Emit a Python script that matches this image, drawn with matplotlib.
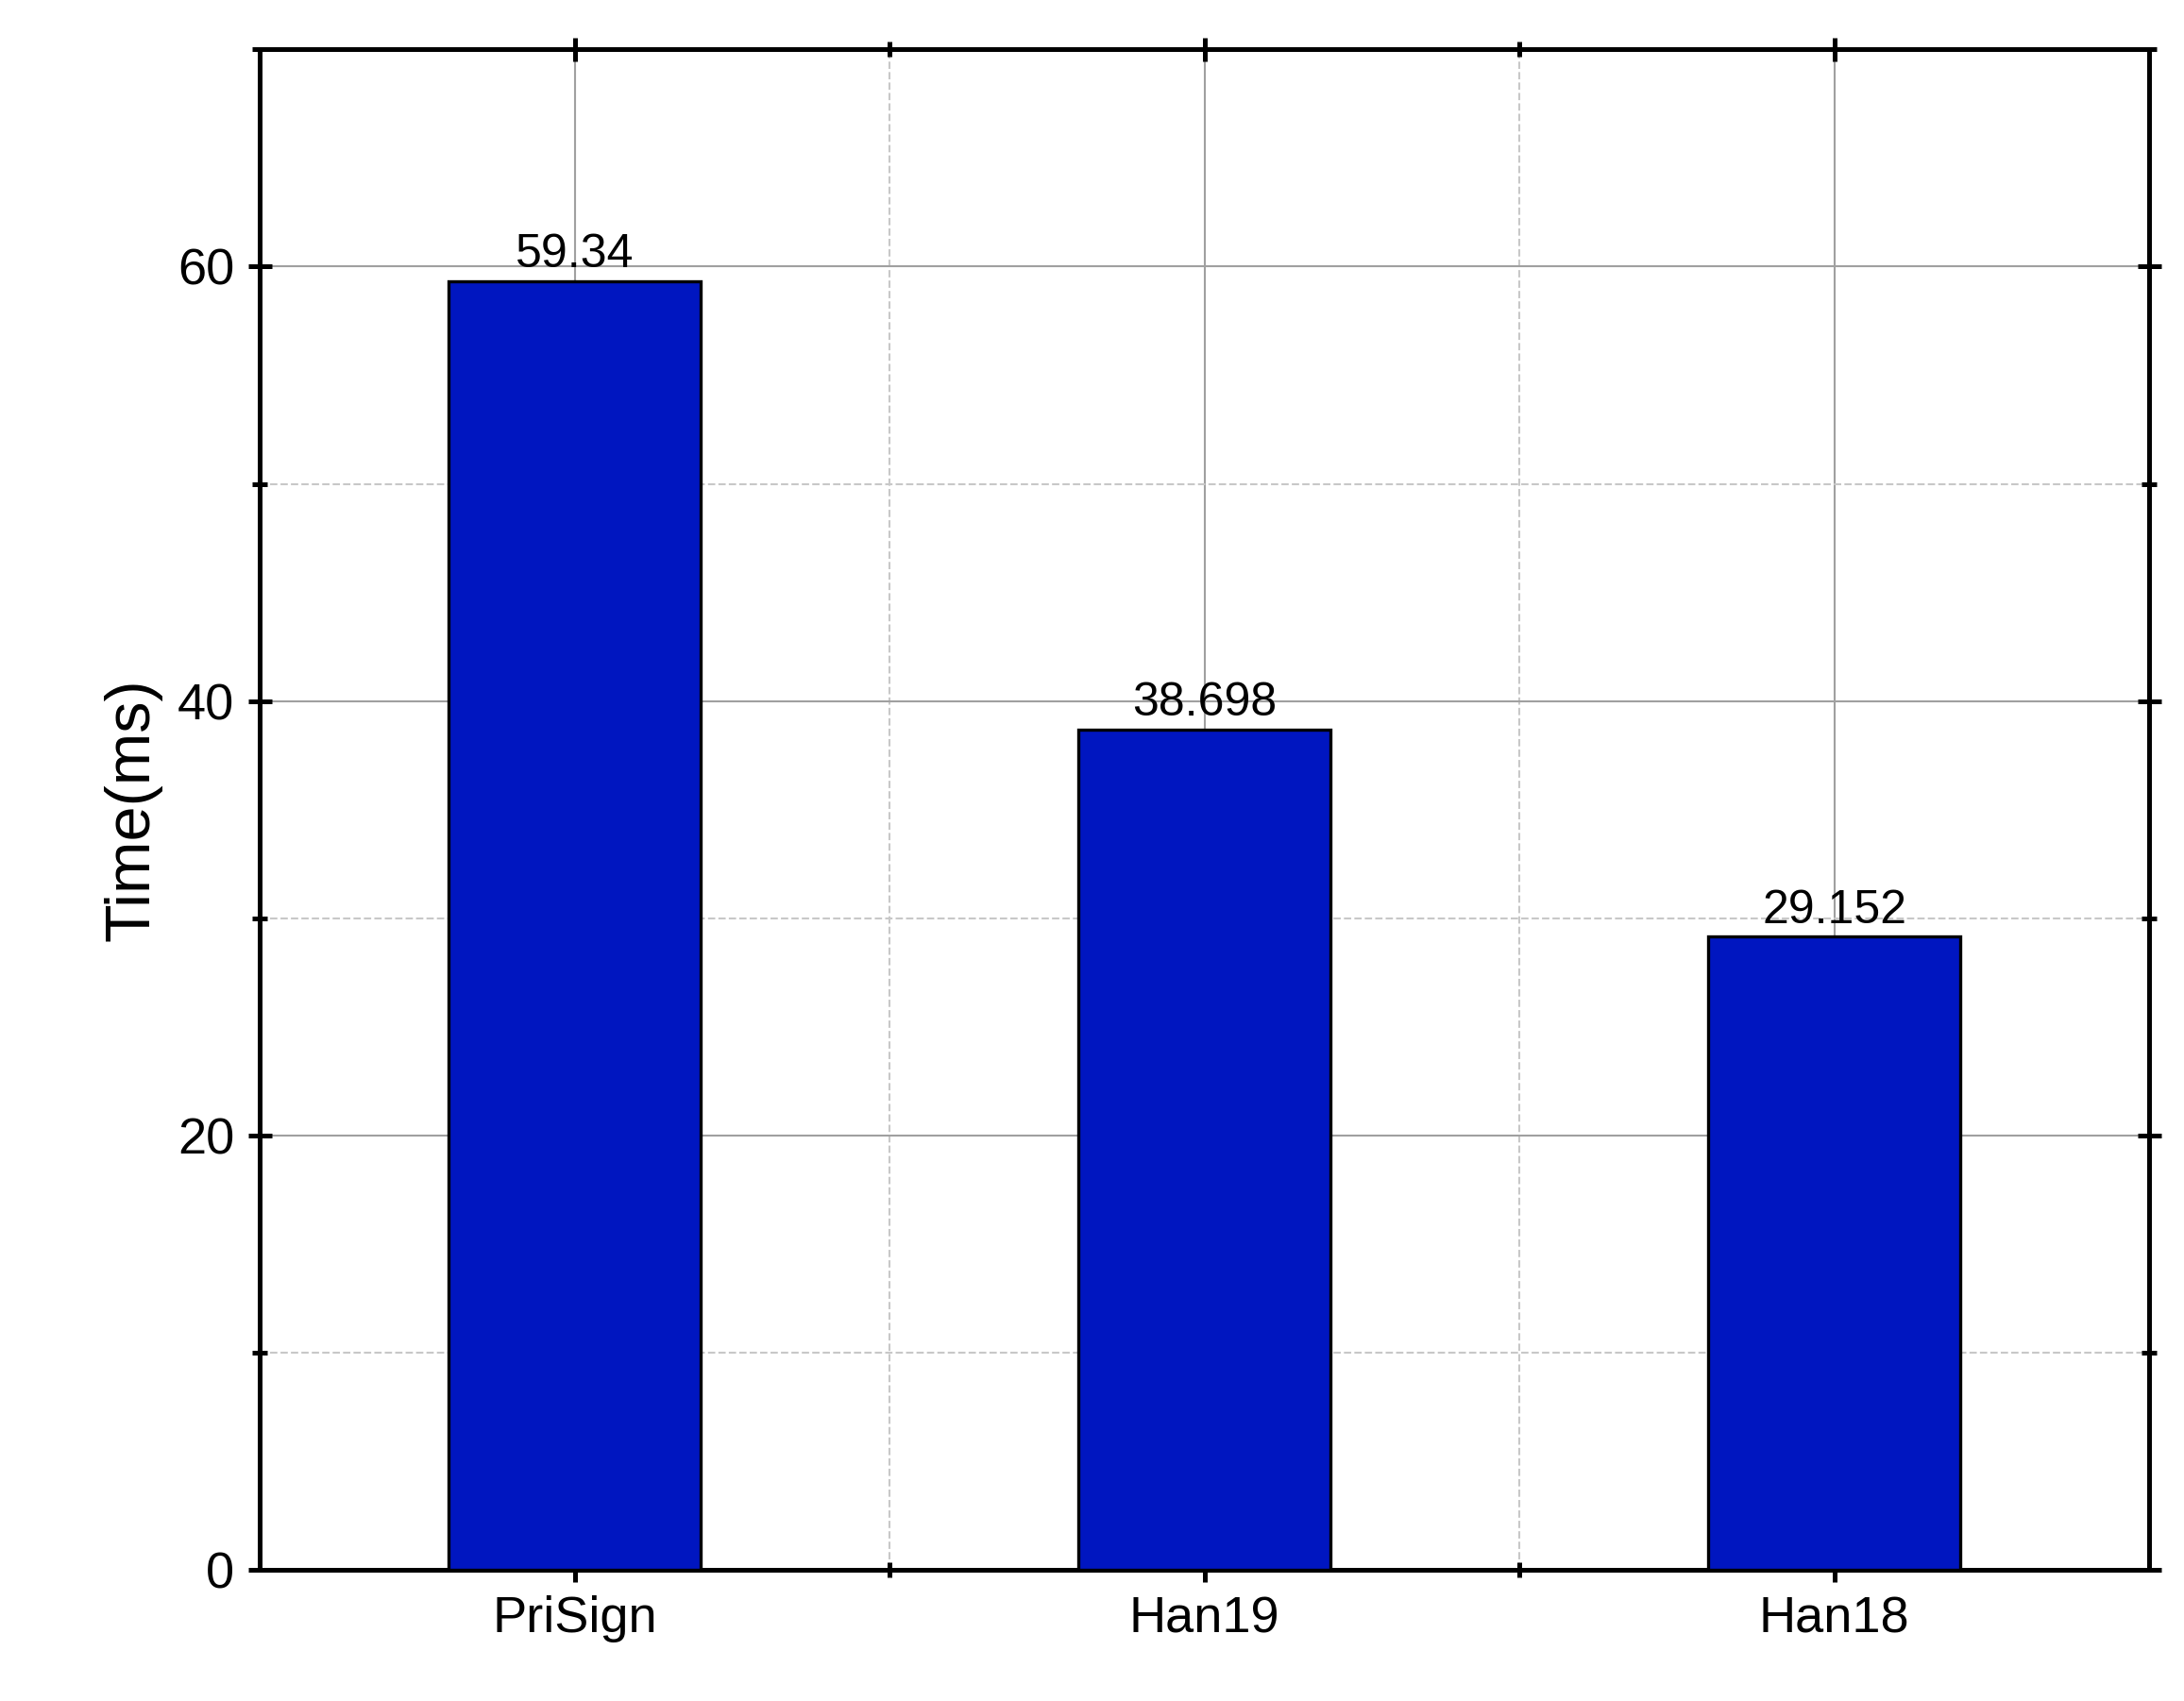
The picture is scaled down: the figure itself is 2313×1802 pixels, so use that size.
import matplotlib.pyplot as plt
from matplotlib.ticker import MultipleLocator

categories = ['PriSign', 'Han19', 'Han18']
times = [59.34, 38.698, 29.152]
labels = ['59.34', '38.698', '29.152']

plt.rcParams['font.family'] = ['Liberation Sans', 'DejaVu Sans']

fig = plt.figure(figsize=(2313 / 300, 1802 / 300), dpi=300)
ax = fig.add_axes([0.119, 0.077, 0.865, 0.894])

x = list(range(len(categories)))
ax.bar(x, times, width=0.4, color='#0016C0', edgecolor='black', linewidth=0.8, zorder=3)
for xi, v, t in zip(x, times, labels):
    ax.text(xi, v + 0.2, t, ha='center', va='bottom', fontsize=12, zorder=4)

ax.set_xlim(-0.5, 2.5)
ax.set_ylim(0, 70)
ax.set_xticks(x)
ax.set_xticklabels(categories)
ax.xaxis.set_minor_locator(MultipleLocator(1))
ax.set_xticks([0.5, 1.5], minor=True)
ax.yaxis.set_major_locator(MultipleLocator(20))
ax.yaxis.set_minor_locator(MultipleLocator(10))

ax.grid(which='major', color='#a0a0a0', linewidth=0.5, zorder=0)
ax.grid(which='minor', color='#c8c8c8', linewidth=0.5, linestyle='--', zorder=0)
ax.set_axisbelow(True)

ax.tick_params(which='both', direction='inout', top=True, right=True, labelsize=13, width=1.2)
ax.tick_params(which='major', length=6)
ax.tick_params(which='minor', length=4)
for s in ax.spines.values():
    s.set_linewidth(1.2)

ax.set_ylabel('Time(ms)', fontsize=16)

fig.savefig('out.png', dpi=300)
